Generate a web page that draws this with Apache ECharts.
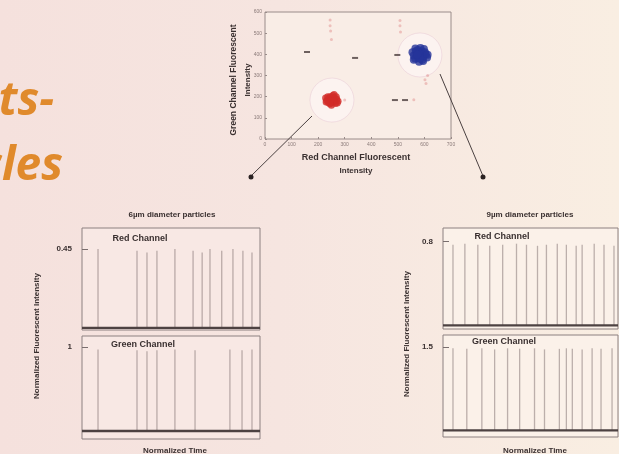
<!DOCTYPE html>
<html><head><meta charset="utf-8">
<script src="https://cdn.jsdelivr.net/npm/echarts@6/dist/echarts.min.js"></script>
<style>
html,body{margin:0;padding:0;}
body{background:linear-gradient(90deg,#f5e1dd 0%,#f6e5e0 45%,#f9eee2 100%);}
#c{width:619px;height:454px;}
</style>
</head><body><div id="c"></div>
<script>
// ---------- DATA ----------
const scatterXTicks = [0, 100, 200, 300, 400, 500, 600, 700];
const scatterYTicks = [0, 100, 200, 300, 400, 500, 600];
const redCluster = [[252,184],[240,190],[262,178],[248,170],[258,196],[232,182],[270,188],[245,200],[265,168],[238,172],[255,205],[275,178],[228,194],[250,160],[242,188],[262,192],[256,176],[236,200],[268,200],[247,180],[258,186],[244,166],[272,170],[230,175],[260,210]];
const blueCluster = [[583,397],[570,405],[596,390],[578,380],[590,415],[560,395],[605,400],[575,420],[592,375],[565,380],[585,430],[610,385],[555,410],[580,365],[598,425],[568,415],[588,402],[574,390],[602,410],[560,375],[590,385],[578,408],[612,398],[566,428],[595,368],[583,382],[573,398]];
const clusterCentres = [[252,184],[583,397]];
const darkMarks = [[158,411],[339,383],[498,397],[489,184],[527,184]];
const faintMarks = [[245,562],[245,535],[247,510],[250,470],[508,560],[508,535],[510,505],[602,280],[606,262],[560,186],[300,184],[612,300]];

const panelTimes = {
  small: { red: [9.0,30.9,36.5,42.1,52.2,62.4,67.5,71.9,78.5,84.8,90.4,95.5],
           green: [9.0,30.9,36.5,42.1,52.2,63.5,83.1,89.9,95.5] },
  large: { red: [5.7,12.5,19.9,26.7,34.1,42.0,47.7,54.0,59.1,65.3,70.5,76.1,79.5,86.4,92.0,97.7],
           green: [5.7,13.6,22.2,29.5,36.9,43.8,52.3,58.0,66.5,70.5,73.9,79.5,85.2,90.3,96.6] }
};
const panelHeights = {
  small: { red: [0.45,0.44,0.43,0.44,0.45,0.44,0.43,0.45,0.44,0.45,0.44,0.43],
           green: [0.97,0.96,0.95,0.96,0.97,0.96,0.97,0.96,0.97] },
  large: { red: [0.77,0.78,0.77,0.76,0.77,0.78,0.77,0.76,0.77,0.78,0.77,0.76,0.77,0.78,0.77,0.76],
           green: [1.48,1.47,1.48,1.46,1.48,1.47,1.48,1.46,1.47,1.48,1.47,1.46,1.48,1.47,1.48] }
};
const tickLabels = { smallRed: '0.45', smallGreen: '1', largeRed: '0.8', largeGreen: '1.5' };
const tickValues = { smallRed: 0.45, smallGreen: 1, largeRed: 0.8, largeGreen: 1.5 };
const panelTitles = ['6µm diameter particles', '9µm diameter particles'];
const channelNames = ['Red Channel', 'Green Channel'];

// ---------- CHART ----------
const chart = echarts.init(document.getElementById('c'), null, {renderer:'canvas'});
const textCol = '#3a3030';
const frameCol = '#8c8080';

function pts(times, heights){ return times.map((t,i)=>[t, heights[i]]); }

const grids = [
  {left:265, top:12, width:186, height:127, show:true, borderColor:'#9a8c8a', borderWidth:1, backgroundColor:'#f9ede6'},
  {left:82, top:228, width:178, height:102, show:true, borderColor:frameCol, borderWidth:1, backgroundColor:'#f8e8e4'},
  {left:82, top:336, width:178, height:103, show:true, borderColor:frameCol, borderWidth:1, backgroundColor:'#f8e8e4'},
  {left:443, top:228, width:175, height:101, show:true, borderColor:frameCol, borderWidth:1, backgroundColor:'#fbf1e9'},
  {left:443, top:335, width:175, height:102, show:true, borderColor:frameCol, borderWidth:1, backgroundColor:'#fbf1e9'}
];

const xAxes = [
  {gridIndex:0, type:'value', min:0, max:700, interval:100,
   axisLine:{show:false}, splitLine:{show:false},
   axisTick:{inside:true, length:2, lineStyle:{color:'#9a8c8a'}},
   axisLabel:{fontSize:5, color:'#8a7a78', margin:3}}
];
for (let g=1; g<=4; g++) xAxes.push({gridIndex:g, type:'value', min:0, max:100,
  axisLine:{show:false}, axisTick:{show:false}, axisLabel:{show:false}, splitLine:{show:false}});

function panelY(g, min, max, key){
  return {gridIndex:g, type:'value', min:min, max:max,
    axisLine:{show:false}, splitLine:{show:false},
    axisTick:{inside:true, length:6, customValues:[tickValues[key]], lineStyle:{color:'#7a6e6e'}},
    axisLabel:{customValues:[tickValues[key]], formatter:()=>tickLabels[key],
      fontSize:8, fontWeight:'bold', color:textCol, margin:10, fontFamily:'Liberation Sans'}};
}
const yAxes = [
  {gridIndex:0, type:'value', min:0, max:600, interval:100,
   axisLine:{show:false}, splitLine:{show:false},
   axisTick:{inside:true, length:2, lineStyle:{color:'#9a8c8a'}},
   axisLabel:{fontSize:5, color:'#8a7a78', margin:3}},
  panelY(1, -0.012, 0.57, 'smallRed'),
  panelY(2, -0.095, 1.13, 'smallGreen'),
  panelY(3, -0.035, 0.93, 'largeRed'),
  panelY(4, -0.12, 1.72, 'largeGreen')
];

const series = [
  {type:'scatter', xAxisIndex:0, yAxisIndex:0, data:clusterCentres, symbolSize:44, silent:true,
   itemStyle:{color:'rgba(255,248,250,0.6)', borderColor:'rgba(215,170,195,0.35)', borderWidth:1}},
  {type:'scatter', xAxisIndex:0, yAxisIndex:0, data:faintMarks, symbolSize:3,
   itemStyle:{color:'rgba(215,110,110,0.45)'}},
  {type:'scatter', xAxisIndex:0, yAxisIndex:0, data:darkMarks, symbol:'rect', symbolSize:[6,2],
   itemStyle:{color:'#4a3c3c'}},
  {type:'scatter', xAxisIndex:0, yAxisIndex:0, data:redCluster, symbolSize:7,
   itemStyle:{color:'#d22c28'}},
  {type:'scatter', xAxisIndex:0, yAxisIndex:0, data:blueCluster, symbolSize:8,
   itemStyle:{color:'#26359a'}}
];
const panelDefs = [
  [1, panelTimes.small.red, panelHeights.small.red],
  [2, panelTimes.small.green, panelHeights.small.green],
  [3, panelTimes.large.red, panelHeights.large.red],
  [4, panelTimes.large.green, panelHeights.large.green]
];
panelDefs.forEach(([g, t, h])=>{
  series.push({type:'bar', xAxisIndex:g, yAxisIndex:g, data:pts(t,h), barWidth:1.3,
    itemStyle:{color:'rgba(125,110,110,0.5)'}});
  series.push({type:'line', xAxisIndex:g, yAxisIndex:g, data:[[0,0],[100,0]], symbol:'none',
    lineStyle:{color:'#4d4242', width:2.4}});
});

function txt(text, x, y, size, opts){
  return Object.assign({type:'text', x:x, y:y, silent:true,
    style:{text:text, fill:textCol, font:'bold '+size+'px "Liberation Sans", Arial, sans-serif',
      align:'center', verticalAlign:'middle'}}, opts||{});
}
function vtxt(text, x, y, size){
  const t = txt(text, x, y, size);
  t.rotation = Math.PI/2;
  return t;
}

const graphic = [
  {type:'text', x:54, y:79, silent:true, style:{text:'ts-', font:'italic bold 46px "Open Sans", sans-serif',
    fill:'#e08a2c', align:'right', verticalAlign:'alphabetic'}},
  {type:'text', x:63, y:144, silent:true, style:{text:'cles', font:'italic bold 46px "Open Sans", sans-serif',
    fill:'#e08a2c', align:'right', verticalAlign:'alphabetic'}},
  vtxt('Green Channel Fluorescent', 234, 80, 8.5),
  vtxt('Intensity', 248, 80, 8),
  txt('Red Channel Fluorescent', 356, 158, 9),
  txt('Intensity', 356, 171, 8),
  txt(panelTitles[0], 172, 215, 8),
  txt(panelTitles[1], 530, 215, 8),
  txt(channelNames[0], 140, 239, 9),
  txt(channelNames[1], 143, 345, 9),
  txt(channelNames[0], 502, 237, 9),
  txt(channelNames[1], 504, 342, 9),
  vtxt('Normalized Fluorescent Intensity', 37, 336, 8),
  vtxt('Normalized Fluorescent Intensity', 407, 334, 8),
  txt('Normalized Time', 175, 451, 8),
  txt('Normalized Time', 535, 451, 8),
  {type:'line', silent:true, shape:{x1:312, y1:116, x2:251, y2:176}, style:{stroke:'#4a4040', lineWidth:1}},
  {type:'line', silent:true, shape:{x1:440, y1:74, x2:483, y2:176}, style:{stroke:'#4a4040', lineWidth:1}},
  {type:'circle', silent:true, shape:{cx:251, cy:177, r:2.5}, style:{fill:'#2a2222'}},
  {type:'circle', silent:true, shape:{cx:483, cy:177, r:2.5}, style:{fill:'#2a2222'}}
];

chart.setOption({
  animation:false,
  backgroundColor:'transparent',
  grid:grids, xAxis:xAxes, yAxis:yAxes, series:series, graphic:graphic
});
</script></body></html>
